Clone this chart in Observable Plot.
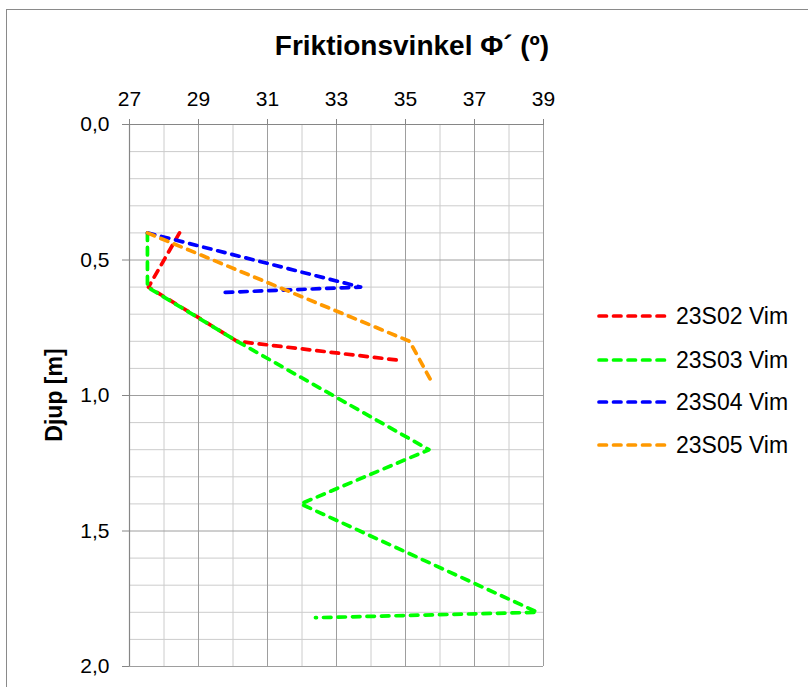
<!DOCTYPE html>
<html>
<head>
<meta charset="utf-8">
<script src="https://cdn.jsdelivr.net/npm/d3@7"></script>
<script src="https://cdn.jsdelivr.net/npm/@observablehq/plot@0.6"></script>
<style>
  html, body { margin: 0; padding: 0; background: #fff; overflow: hidden; }
  #wrap { position: relative; width: 808px; height: 687px; font-family: "Liberation Sans", Arial, sans-serif; }
  #border { position: absolute; left: 6px; top: 9px; width: 900px; height: 900px; border-left: 1.5px solid #8a8a8a; border-top: 1.5px solid #8a8a8a; pointer-events: none; }
  #title { position: absolute; left: 0; width: 824px; top: 31px; text-align: center; font-weight: bold; font-size: 28px; line-height: 30px; white-space: nowrap; }
  #ylab { position: absolute; left: 54px; top: 395px; transform: translate(-50%, -50%) rotate(-90deg); font-weight: bold; font-size: 23px; line-height: 24px; white-space: nowrap; }
  .leg { position: absolute; left: 596px; height: 30px; display: flex; align-items: center; font-size: 23px; white-space: nowrap; }
  .leg svg { margin-right: 6px; }
</style>
</head>
<body>
<div id="wrap">
  <div id="chart"></div>
  <div id="title">Friktionsvinkel Φ´ (º)</div>
  <div id="ylab">Djup [m]</div>
  <div id="border"></div>
</div>
<script>
// Series (names & colours)
const seriesNames = ["23S02 Vim", "23S03 Vim", "23S04 Vim", "23S05 Vim"];
const seriesColors = ["#FF0000", "#00FF00", "#0000FF", "#FF9900"];

// Friktionsvinkel (deg) and depth (m) per series
const phi_23S02 = [28.45, 27.55, 30.12, 34.81];
const depth_23S02 = [0.40, 0.60, 0.80, 0.87];

const phi_23S03 = [27.52, 27.52, 30.12, 35.68, 31.96, 38.83, 32.39];
const depth_23S03 = [0.40, 0.60, 0.80, 1.20, 1.40, 1.80, 1.82];

const phi_23S04 = [27.52, 33.70, 29.65];
const depth_23S04 = [0.40, 0.60, 0.62];

const phi_23S05 = [27.52, 35.12, 35.76];
const depth_23S05 = [0.40, 0.80, 0.95];

// Axis ticks
const xMajor = [27, 29, 31, 33, 35, 37, 39];
const xMinor = [28, 30, 32, 34, 36, 38];
const yMajor = [0, 0.5, 1.0, 1.5, 2.0];
const yMinor = [0.1, 0.2, 0.3, 0.4, 0.6, 0.7, 0.8, 0.9, 1.1, 1.2, 1.3, 1.4, 1.6, 1.7, 1.8, 1.9];

const phis = [phi_23S02, phi_23S03, phi_23S04, phi_23S05];
const depths = [depth_23S02, depth_23S03, depth_23S04, depth_23S05];
const rows = [];
seriesNames.forEach((s, i) => {
  phis[i].forEach((p, j) => rows.push({series: s, phi: p, depth: depths[i][j]}));
});

const chart = Plot.plot({
  width: 808,
  height: 687,
  marginLeft: 129,
  marginTop: 124,
  marginRight: 265,
  marginBottom: 21,
  style: {fontFamily: "'Liberation Sans', Arial, sans-serif", background: "transparent", color: "#000", overflow: "visible"},
  x: {domain: [27, 39], label: null},
  y: {domain: [0, 2], reverse: true, label: null},
  color: {domain: seriesNames, range: seriesColors},
  marks: [
    Plot.ruleX(xMinor, {stroke: "#cccccc", strokeWidth: 1, strokeOpacity: 1}),
    Plot.ruleY(yMinor, {stroke: "#cccccc", strokeWidth: 1, strokeOpacity: 1}),
    Plot.ruleX(xMajor, {stroke: "#9e9e9e", strokeWidth: 1, strokeOpacity: 1}),
    Plot.ruleY(yMajor, {stroke: "#9e9e9e", strokeWidth: 1, strokeOpacity: 1}),
    Plot.ruleX([27], {stroke: "#868686", strokeWidth: 1.2}),
    Plot.ruleY([0], {stroke: "#868686", strokeWidth: 1.2}),
    Plot.axisX(xMajor, {anchor: "top", tickSize: 6, tickPadding: 13, fontSize: 21, stroke: "#868686", label: null}),
    Plot.axisY(yMajor, {anchor: "left", tickSize: 7, tickPadding: 13, fontSize: 21, stroke: "#868686", label: null,
      tickFormat: d => d.toFixed(1).replace(".", ",")}),
    Plot.line(rows, {x: "phi", y: "depth", z: "series", stroke: "series", strokeWidth: 3.7,
      strokeDasharray: "7.5,7", strokeLinecap: "round", strokeLinejoin: "round"})
  ]
});
document.getElementById("chart").appendChild(chart);

// Legend built from series arrays
const wrap = document.getElementById("wrap");
const legTops = [301, 345, 387, 430];
seriesNames.forEach((s, i) => {
  const d = document.createElement("div");
  d.className = "leg";
  d.style.top = legTops[i] + "px";
  d.innerHTML = `<svg width="74" height="10"><line x1="3" y1="5" x2="71" y2="5" stroke="${seriesColors[i]}" stroke-width="3.7" stroke-dasharray="7.5,7" stroke-linecap="round"/></svg><span>${s}</span>`;
  wrap.appendChild(d);
});
</script>
</body>
</html>
